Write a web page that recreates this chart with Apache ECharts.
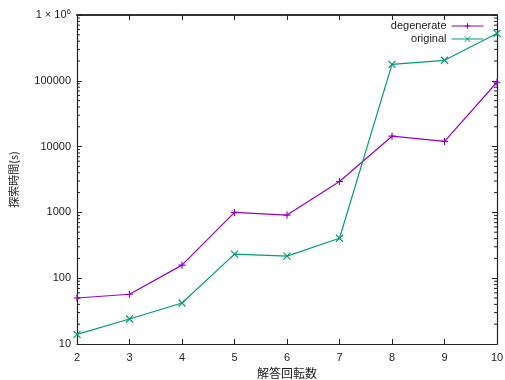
<!DOCTYPE html>
<html><head><meta charset="utf-8">
<script src="https://cdn.jsdelivr.net/npm/echarts@6/dist/echarts.min.js"></script>
<style>html,body{margin:0;padding:0;background:#fff}#c{width:505px;height:380px}</style>
</head><body><div id="c"></div>
<script>
const xValues = [2, 3, 4, 5, 6, 7, 8, 9, 10];
const degenerate = [50, 57, 158, 1000, 910, 2950, 14400, 12000, 95000];
const original = [14, 24, 42, 232, 217, 405, 178000, 205000, 525000];
const seriesNames = ['degenerate', 'original'];
const xTitle = '解答回転数';
const yTitle = '探索時間(s)';

const font = '"Liberation Sans", Arial, sans-serif';
const cjk = '"Noto Sans CJK JP", sans-serif';
const colors = ['#9400d3', '#009e73'];
const minorVals = [];
for (let e = 1; e < 6; e++) for (let m = 2; m <= 9; m++) minorVals.push(m * Math.pow(10, e));

const chart = echarts.init(document.getElementById('c'), null, {renderer: 'canvas'});
const axisLine = {show: true, lineStyle: {color: '#222', width: 1.2}};
chart.setOption({
  animation: false,
  grid: {left: 77, right: 8, top: 15, bottom: 36, containLabel: false, outerBoundsMode: 'none'},
  legend: {
    data: seriesNames, orient: 'vertical', right: 21, top: 20, align: 'right',
    itemWidth: 32, itemHeight: 7, itemGap: 1, padding: 0,
    lineStyle: {width: 1},
    itemStyle: {borderWidth: 1},
    textStyle: {fontFamily: font, fontSize: 11, color: '#222', lineHeight: 12}
  },
  xAxis: [{
    type: 'value', min: 2, max: 10, interval: 1, position: 'bottom',
    name: xTitle, nameLocation: 'middle', nameGap: 23,
    nameTextStyle: {fontFamily: cjk, fontSize: 12, color: '#222'},
    axisLine: axisLine, axisTick: {inside: true, length: 5, lineStyle: {color: '#222'}},
    axisLabel: {fontFamily: font, fontSize: 11, color: '#222', margin: 8},
    splitLine: {show: false}
  }, {
    type: 'value', min: 2, max: 10, interval: 1, position: 'top',
    axisLine: {show: true, lineStyle: {color: '#333', width: 2}},
    axisTick: {inside: true, length: 5, lineStyle: {color: '#222'}},
    axisLabel: {show: false}, splitLine: {show: false}
  }],
  yAxis: [{
    type: 'log', logBase: 10, min: 10, max: 1000000, position: 'left',
    name: yTitle, nameLocation: 'middle', nameGap: 58, nameRotate: 90,
    nameTextStyle: {fontFamily: cjk, fontSize: 11, color: '#222'},
    axisLine: axisLine, axisTick: {inside: true, length: 5, lineStyle: {color: '#222'}},
    axisLabel: {
      fontFamily: font, fontSize: 11, color: '#222', margin: 6,
      formatter: v => v >= 999999 ? '1 × 10{sup|6}' : String(Math.round(v)),
      rich: {sup: {fontSize: 8, verticalAlign: 'top', padding: [0, 0, 6, 0], fontFamily: font, color: '#222'}}
    },
    splitLine: {show: false}
  }, {
    type: 'log', logBase: 10, min: 10, max: 1000000, position: 'right',
    axisLine: axisLine, axisTick: {inside: true, length: 5, lineStyle: {color: '#222'}},
    axisLabel: {show: false}, splitLine: {show: false}
  }],
  series: [{
    name: seriesNames[0], type: 'line', xAxisIndex: 0, yAxisIndex: 0,
    data: xValues.map((x, i) => [x, degenerate[i]]),
    color: colors[0], lineStyle: {width: 1.2, color: colors[0]},
    symbol: 'path://M0,5L10,5M5,0L5,10', symbolSize: 7, showSymbol: true,
    itemStyle: {color: 'none', borderColor: colors[0], borderWidth: 1.2}
  }, {
    name: seriesNames[1], type: 'line', xAxisIndex: 0, yAxisIndex: 0,
    data: xValues.map((x, i) => [x, original[i]]),
    color: colors[1], lineStyle: {width: 1.2, color: colors[1]},
    symbol: 'path://M0,0L10,10M10,0L0,10', symbolSize: 7, showSymbol: true,
    itemStyle: {color: 'none', borderColor: colors[1], borderWidth: 1.2}
  }, {
    type: 'custom', xAxisIndex: 0, yAxisIndex: 0, silent: true,
    data: minorVals.map(v => [2, v]),
    renderItem: function (params, api) {
      const p = api.coord([2, api.value(1)]);
      const cs = params.coordSys;
      const len = 3;
      return {type: 'group', children: [
        {type: 'line', shape: {x1: cs.x, y1: p[1], x2: cs.x + len, y2: p[1]}, style: {stroke: '#222', lineWidth: 1}},
        {type: 'line', shape: {x1: cs.x + cs.width, y1: p[1], x2: cs.x + cs.width - len, y2: p[1]}, style: {stroke: '#222', lineWidth: 1}}
      ]};
    }
  }]
});
</script></body></html>
